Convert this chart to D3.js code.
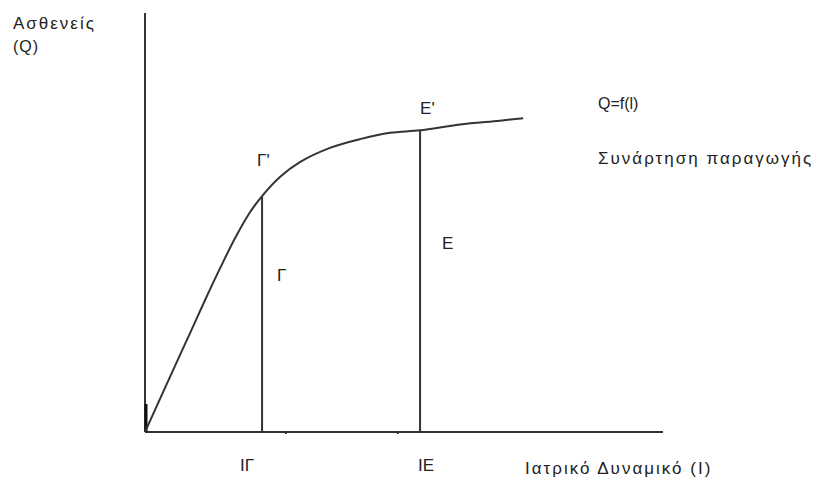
<!DOCTYPE html>
<html><head><meta charset="utf-8">
<script src="https://cdn.jsdelivr.net/npm/d3@7"></script>
<style>
html,body{margin:0;padding:0;background:#fff;}
text{font-family:"Liberation Sans",Arial,sans-serif;fill:#222;}
</style></head>
<body>
<svg id="c" width="828" height="481"></svg>
<script>
// Production function Q = f(I): points (I, Q)
const curveI = [0, 2.9, 5.8, 8.7, 11.6, 14.5, 17.4, 20.3, 22.6, 26.1, 29.9, 35.7, 41.5, 47.3, 53.1, 60.8, 68.5, 73.0];
const curveQ = [0, 7.9, 15.8, 23.6, 31.5, 39.1, 46.3, 52.5, 56.3, 60.9, 64.4, 67.8, 69.9, 71.4, 72.0, 73.4, 74.3, 74.9];
// Marked input levels
const levelNames = ["Γ", "E"];
const levelI = [22.6, 53.1];
const levelQ = [56.3, 72.0];
const pointLabels = ["Γ'", "E'"];
const tickLabels = ["IΓ", "IE"];
const minorTicks = [27.2, 48.8];

const svg = d3.select("#c");
const x = d3.scaleLinear().domain([0, 100]).range([145, 663]);
const y = d3.scaleLinear().domain([0, 100]).range([432, 13]);
const col = "#333";

// axes
svg.append("line").attr("x1", x(0)).attr("x2", x(0)).attr("y1", y(0)).attr("y2", y(100))
  .attr("stroke", col).attr("stroke-width", 2);
svg.append("line").attr("x1", x(0)).attr("x2", x(100)).attr("y1", y(0)).attr("y2", y(0))
  .attr("stroke", col).attr("stroke-width", 2);
// short thick mark at origin
svg.append("line").attr("x1", x(0) + 1).attr("x2", x(0) + 1).attr("y1", y(0)).attr("y2", y(6.7))
  .attr("stroke", "#111").attr("stroke-width", 3);
// minor ticks
svg.selectAll(".mt").data(minorTicks).enter().append("rect")
  .attr("x", d => x(d) - 1).attr("y", y(0)).attr("width", 2).attr("height", 2).attr("fill", col);

// curve
const pts = curveI.map((v, i) => [v, curveQ[i]]);
svg.append("path").datum(pts)
  .attr("d", d3.line().x(d => x(d[0])).y(d => y(d[1])).curve(d3.curveCatmullRom))
  .attr("fill", "none").attr("stroke", col).attr("stroke-width", 2);

// vertical lines
svg.selectAll(".vl").data(levelI).enter().append("line")
  .attr("x1", d => x(d)).attr("x2", d => x(d))
  .attr("y1", y(0)).attr("y2", (d, i) => y(levelQ[i]))
  .attr("stroke", col).attr("stroke-width", 2);

const lbl = (t, xx, yy, fs, ls) => svg.append("text").attr("x", xx).attr("y", yy)
  .attr("font-size", fs || 17).attr("letter-spacing", ls || 0).text(t);

// point labels
const plOff = [[-5, -30], [0, -16]];
pointLabels.forEach((t, i) => lbl(t, x(levelI[i]) + plOff[i][0], y(levelQ[i]) + plOff[i][1]));
// area labels
const alOff = [[15, 281], [22, 249]];
levelNames.forEach((t, i) => lbl(t, x(levelI[i]) + alOff[i][0], alOff[i][1]));
// tick labels
const tlOff = [-22, -2];
tickLabels.forEach((t, i) => lbl(t, x(levelI[i]) + tlOff[i], 471));

// axis titles and legend
lbl("Ασθενείς", 13, 29, 17, 2);
lbl("(Q)", 13, 52, 16, 1);
lbl("Q=f(l)", 598, 109, 16, 0);
lbl("Συνάρτηση παραγωγής", 598, 164, 17, 2);
lbl("Ιατρικό Δυναμικό (I)", 525, 474, 17, 2);
</script>
</body></html>
